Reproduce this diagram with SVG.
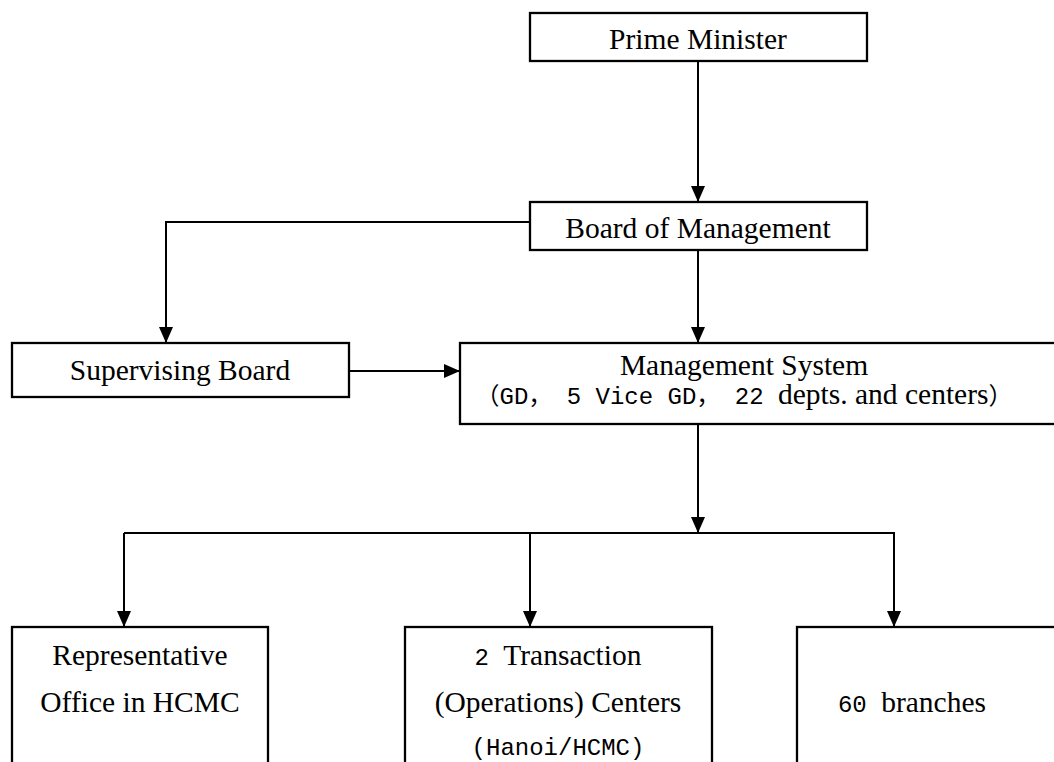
<svg xmlns="http://www.w3.org/2000/svg" width="1054" height="762" viewBox="0 0 1054 762">
<style>
.box{fill:#fff;stroke:#000;stroke-width:2.3}
.t{font-family:"Liberation Serif","Times New Roman",serif;font-size:29.5px;fill:#000;text-anchor:middle;white-space:pre}
.m{font-family:"Liberation Mono","Noto Sans CJK SC",monospace;font-size:24px}
.c{stroke:#000;stroke-width:2;fill:none}
</style>
<defs>
<marker id="ah" viewBox="0 0 16 14" refX="16" refY="7" markerWidth="16" markerHeight="14" markerUnits="userSpaceOnUse" orient="auto">
<path d="M0,0 L16,7 L0,14 Z" fill="#000"/>
</marker>
</defs>
<g id="connectors">
<path class="c" d="M698,61 V202" marker-end="url(#ah)"/>
<path class="c" d="M530,222 H166 V343" marker-end="url(#ah)"/>
<path class="c" d="M698,250 V343" marker-end="url(#ah)"/>
<path class="c" d="M349,371 H460" marker-end="url(#ah)"/>
<path class="c" d="M698,424 V533" marker-end="url(#ah)"/>
<path class="c" d="M124,533 H894 V627" marker-end="url(#ah)"/>
<path class="c" d="M124,533 V627" marker-end="url(#ah)"/>
<path class="c" d="M530,533 V627" marker-end="url(#ah)"/>
</g>
<g id="prime-minister">
<rect class="box" x="530" y="13" width="337" height="48"/>
<text class="t" x="698" y="49">Prime Minister</text>
</g>
<g id="board-of-management">
<rect class="box" x="530" y="202" width="337" height="48"/>
<text class="t" x="698" y="238">Board of Management</text>
</g>
<g id="supervising-board">
<rect class="box" x="12" y="343" width="337" height="54"/>
<text class="t" x="180" y="380">Supervising Board</text>
</g>
<g id="management-system">
<rect class="box" x="460" y="343" width="620" height="81"/>
<text class="t" x="744" y="375">Management System</text>
<text class="t" x="744" y="404"><tspan class="m">（GD， 5 Vice GD， 22 </tspan>depts. and centers<tspan class="m">）</tspan></text>
</g>
<g id="representative-office">
<rect class="box" x="12" y="627" width="256" height="150"/>
<text class="t" x="140" y="665">Representative</text>
<text class="t" x="140" y="712">Office in HCMC</text>
</g>
<g id="transaction-centers">
<rect class="box" x="405" y="627" width="307" height="150"/>
<text class="t" x="558" y="665"><tspan class="m">2 </tspan>Transaction</text>
<text class="t" x="558" y="712">(Operations) Centers</text>
<text class="t" x="558" y="755"><tspan class="m">(Hanoi/HCMC)</tspan></text>
</g>
<g id="branches">
<rect class="box" x="797" y="627" width="283" height="150"/>
<text class="t" x="912" y="712"><tspan class="m">60 </tspan>branches</text>
</g>
</svg>
